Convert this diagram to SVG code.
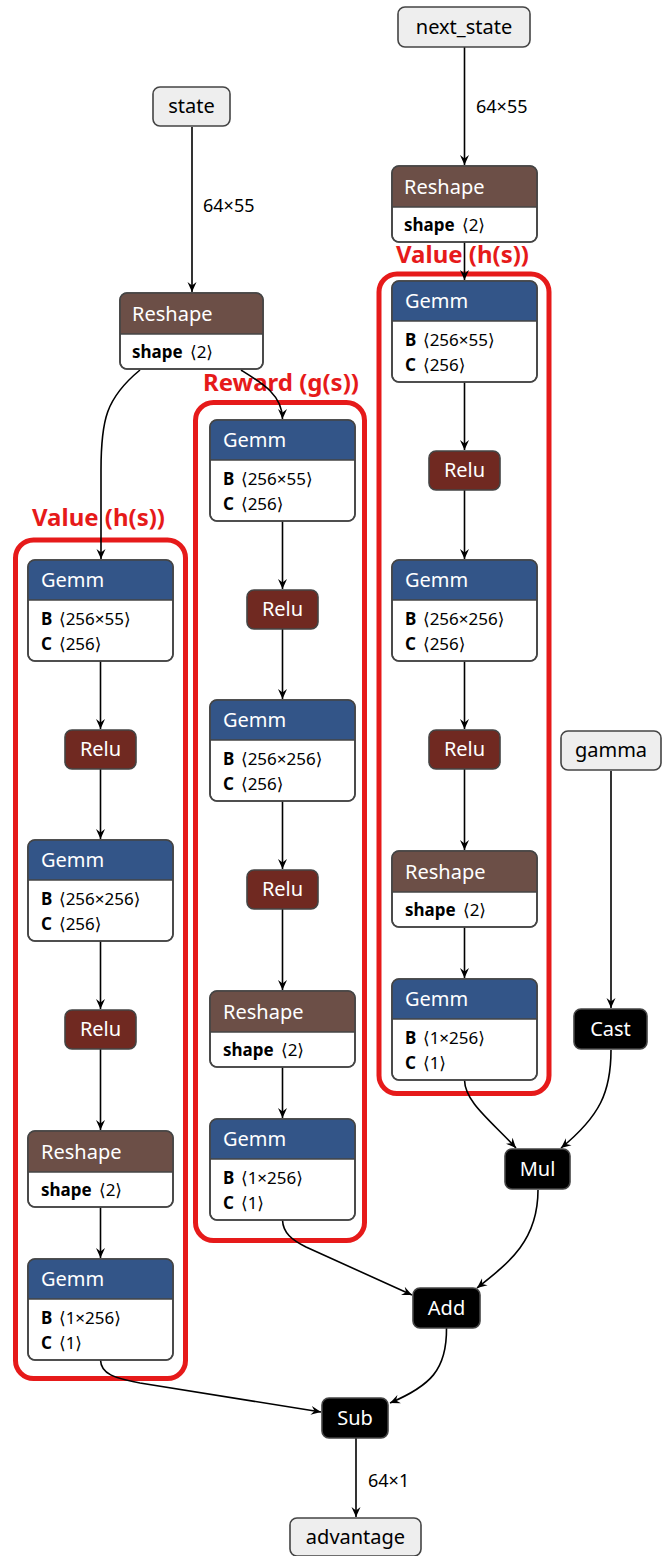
<svg xmlns="http://www.w3.org/2000/svg" width="670" height="1556" viewBox="0 0 670 1556">
<defs>
<marker id="arr" viewBox="-10 -5 11 10" refX="0" refY="0" markerWidth="11" markerHeight="10" markerUnits="userSpaceOnUse" orient="auto">
<path d="M0,0 L-10,-4.5 L-6.5,0 L-10,4.5 Z" fill="#000"/>
</marker>
</defs>
<style>
text{font-family:"Noto Sans","DejaVu Sans",sans-serif}
.box{fill:#fff;stroke:#444;stroke-width:1.6}
.edge-o{fill:none;stroke:#444;stroke-width:1.6}
.inp{fill:#eee;stroke:#444;stroke-width:1.6}
.op{fill:#000;stroke:#444;stroke-width:1.6}
.gemm{fill:#335588}
.resh{fill:#6c4f47}
.relu{fill:#702921;stroke:#444;stroke-width:1.6}
.sep{stroke:#444;stroke-width:1.4}
.t{font-size:20px;fill:#fff}
.tc{font-size:20px;fill:#fff;text-anchor:middle}
.ti{font-size:20px;fill:#000;text-anchor:middle}
.b{font-size:17px;fill:#000}
.bb{font-weight:bold}
.lbl{font-size:18px;fill:#000}
.grp{fill:none;stroke:#e61a1a;stroke-width:5}
.gl{font-size:24px;font-weight:bold;fill:#e61a1a}
.e{fill:none;stroke:#000;stroke-width:1.6;marker-end:url(#arr)}
</style>

<g id="groups">
<rect class="grp" x="15.5" y="540" width="170" height="838.5" rx="18"/>
<text class="gl" x="32" y="526">Value (h(s))</text>
<rect class="grp" x="195.5" y="402.5" width="169" height="838" rx="18"/>
<text class="gl" x="203" y="391">Reward (g(s))</text>
<rect class="grp" x="379" y="274" width="170" height="819.5" rx="18"/>
<text class="gl" x="396" y="263">Value (h(s))</text>
</g>

<g id="edges">
<path class="e" d="M192,127 V292"/>
<path class="e" d="M464.5,47 V165"/>
<path class="e" d="M464.5,242 V280"/>
<path class="e" d="M140,370 C106,398 101,420 101,470 V559"/>
<path class="e" d="M241,370 C262,383 282.5,395 282.5,419"/>
<path class="e" d="M100.5,661 V729"/>
<path class="e" d="M100.5,769 V839"/>
<path class="e" d="M100.5,941 V1009"/>
<path class="e" d="M100.5,1049 V1130"/>
<path class="e" d="M100.5,1207 V1258"/>
<path class="e" d="M282.5,521 V589"/>
<path class="e" d="M282.5,629 V699"/>
<path class="e" d="M282.5,801 V869"/>
<path class="e" d="M282.5,909 V990"/>
<path class="e" d="M282.5,1067 V1118"/>
<path class="e" d="M464.5,382 V450"/>
<path class="e" d="M464.5,490 V559"/>
<path class="e" d="M464.5,661 V729"/>
<path class="e" d="M464.5,769 V850"/>
<path class="e" d="M464.5,927 V978"/>
<path class="e" d="M611,771 V1008"/>
<path class="e" d="M464.5,1080 C465,1102 490,1120 516,1148"/>
<path class="e" d="M611,1050 C611,1092 600,1116 561,1148"/>
<path class="e" d="M538,1190 C538,1240 510,1262 477,1288"/>
<path class="e" d="M282.5,1220 C283,1233 292,1240 306,1247 L412,1295"/>
<path class="e" d="M100.5,1360 C101,1374 114,1378 140,1383 L321,1412"/>
<path class="e" d="M446.5,1328 C447,1370 430,1386 390,1403"/>
<path class="e" d="M356,1438 V1517"/>
<text class="lbl" x="203" y="212">64×55</text>
<text class="lbl" x="476" y="113">64×55</text>
<text class="lbl" x="368" y="1487">64×1</text>
</g>

<g id="state"><rect class="inp" x="153" y="87" width="77" height="39" rx="7"/><text class="ti" x="191.5" y="113">state</text></g>
<g id="next_state"><rect class="inp" x="398" y="7" width="132" height="40" rx="7"/><text class="ti" x="464" y="34">next_state</text></g>
<g id="gamma"><rect class="inp" x="561" y="731" width="100" height="39" rx="7"/><text class="ti" x="611" y="757">gamma</text></g>
<g id="advantage"><rect class="inp" x="290" y="1518" width="131" height="38" rx="7"/><text class="ti" x="355.5" y="1544">advantage</text></g>

<g id="reshape_state">
<rect class="box" x="120" y="293" width="143" height="76" rx="7"/>
<path class="resh" d="M120,334 V300 a7,7 0 0 1 7,-7 H256 a7,7 0 0 1 7,7 V334 Z"/>
<line class="sep" x1="120" y1="334" x2="263" y2="334"/>
<rect x="120" y="293" width="143" height="76" rx="7" class="edge-o"/>
<text class="t" x="132" y="321">Reshape</text>
<text class="b" x="132" y="358"><tspan class="bb">shape</tspan><tspan x="190">⟨2⟩</tspan></text>
</g>

<g id="reshape_next">
<rect class="box" x="392" y="166" width="145" height="76" rx="7"/>
<path class="resh" d="M392,207 V173 a7,7 0 0 1 7,-7 H530 a7,7 0 0 1 7,7 V207 Z"/>
<line class="sep" x1="392" y1="207" x2="537" y2="207"/>
<rect x="392" y="166" width="145" height="76" rx="7" class="edge-o"/>
<text class="t" x="404" y="194">Reshape</text>
<text class="b" x="404" y="231"><tspan class="bb">shape</tspan><tspan x="462">⟨2⟩</tspan></text>
</g>

<g id="l_gemm1">
<rect class="box" x="28" y="560" width="145" height="101" rx="7"/>
<path class="gemm" d="M28,600 V567 a7,7 0 0 1 7,-7 H166 a7,7 0 0 1 7,7 V600 Z"/>
<line class="sep" x1="28" y1="600" x2="173" y2="600"/>
<rect x="28" y="560" width="145" height="101" rx="7" class="edge-o"/>
<text class="t" x="41" y="587">Gemm</text>
<text class="b" x="41" y="625"><tspan class="bb">B</tspan><tspan x="59">⟨256×55⟩</tspan></text>
<text class="b" x="41" y="650"><tspan class="bb">C</tspan><tspan x="59">⟨256⟩</tspan></text>
</g>
<g id="l_relu1"><rect class="relu" x="65" y="730" width="71" height="39" rx="7"/><text class="tc" x="100.5" y="756">Relu</text></g>
<g id="l_gemm2">
<rect class="box" x="28" y="840" width="145" height="101" rx="7"/>
<path class="gemm" d="M28,880 V847 a7,7 0 0 1 7,-7 H166 a7,7 0 0 1 7,7 V880 Z"/>
<line class="sep" x1="28" y1="880" x2="173" y2="880"/>
<rect x="28" y="840" width="145" height="101" rx="7" class="edge-o"/>
<text class="t" x="41" y="867">Gemm</text>
<text class="b" x="41" y="905"><tspan class="bb">B</tspan><tspan x="59">⟨256×256⟩</tspan></text>
<text class="b" x="41" y="930"><tspan class="bb">C</tspan><tspan x="59">⟨256⟩</tspan></text>
</g>
<g id="l_relu2"><rect class="relu" x="65" y="1010" width="71" height="39" rx="7"/><text class="tc" x="100.5" y="1036">Relu</text></g>
<g id="l_reshape">
<rect class="box" x="28" y="1131" width="145" height="76" rx="7"/>
<path class="resh" d="M28,1172 V1138 a7,7 0 0 1 7,-7 H166 a7,7 0 0 1 7,7 V1172 Z"/>
<line class="sep" x1="28" y1="1172" x2="173" y2="1172"/>
<rect x="28" y="1131" width="145" height="76" rx="7" class="edge-o"/>
<text class="t" x="41" y="1159">Reshape</text>
<text class="b" x="41" y="1196"><tspan class="bb">shape</tspan><tspan x="99">⟨2⟩</tspan></text>
</g>
<g id="l_gemm3">
<rect class="box" x="28" y="1259" width="145" height="101" rx="7"/>
<path class="gemm" d="M28,1299 V1266 a7,7 0 0 1 7,-7 H166 a7,7 0 0 1 7,7 V1299 Z"/>
<line class="sep" x1="28" y1="1299" x2="173" y2="1299"/>
<rect x="28" y="1259" width="145" height="101" rx="7" class="edge-o"/>
<text class="t" x="41" y="1286">Gemm</text>
<text class="b" x="41" y="1324"><tspan class="bb">B</tspan><tspan x="59">⟨1×256⟩</tspan></text>
<text class="b" x="41" y="1349"><tspan class="bb">C</tspan><tspan x="59">⟨1⟩</tspan></text>
</g>

<g id="m_gemm1">
<rect class="box" x="210" y="420" width="145" height="101" rx="7"/>
<path class="gemm" d="M210,460 V427 a7,7 0 0 1 7,-7 H348 a7,7 0 0 1 7,7 V460 Z"/>
<line class="sep" x1="210" y1="460" x2="355" y2="460"/>
<rect x="210" y="420" width="145" height="101" rx="7" class="edge-o"/>
<text class="t" x="223" y="447">Gemm</text>
<text class="b" x="223" y="485"><tspan class="bb">B</tspan><tspan x="241">⟨256×55⟩</tspan></text>
<text class="b" x="223" y="510"><tspan class="bb">C</tspan><tspan x="241">⟨256⟩</tspan></text>
</g>
<g id="m_relu1"><rect class="relu" x="247" y="590" width="71" height="39" rx="7"/><text class="tc" x="282.5" y="616">Relu</text></g>
<g id="m_gemm2">
<rect class="box" x="210" y="700" width="145" height="101" rx="7"/>
<path class="gemm" d="M210,740 V707 a7,7 0 0 1 7,-7 H348 a7,7 0 0 1 7,7 V740 Z"/>
<line class="sep" x1="210" y1="740" x2="355" y2="740"/>
<rect x="210" y="700" width="145" height="101" rx="7" class="edge-o"/>
<text class="t" x="223" y="727">Gemm</text>
<text class="b" x="223" y="765"><tspan class="bb">B</tspan><tspan x="241">⟨256×256⟩</tspan></text>
<text class="b" x="223" y="790"><tspan class="bb">C</tspan><tspan x="241">⟨256⟩</tspan></text>
</g>
<g id="m_relu2"><rect class="relu" x="247" y="870" width="71" height="39" rx="7"/><text class="tc" x="282.5" y="896">Relu</text></g>
<g id="m_reshape">
<rect class="box" x="210" y="991" width="145" height="76" rx="7"/>
<path class="resh" d="M210,1032 V998 a7,7 0 0 1 7,-7 H348 a7,7 0 0 1 7,7 V1032 Z"/>
<line class="sep" x1="210" y1="1032" x2="355" y2="1032"/>
<rect x="210" y="991" width="145" height="76" rx="7" class="edge-o"/>
<text class="t" x="223" y="1019">Reshape</text>
<text class="b" x="223" y="1056"><tspan class="bb">shape</tspan><tspan x="281">⟨2⟩</tspan></text>
</g>
<g id="m_gemm3">
<rect class="box" x="210" y="1119" width="145" height="101" rx="7"/>
<path class="gemm" d="M210,1159 V1126 a7,7 0 0 1 7,-7 H348 a7,7 0 0 1 7,7 V1159 Z"/>
<line class="sep" x1="210" y1="1159" x2="355" y2="1159"/>
<rect x="210" y="1119" width="145" height="101" rx="7" class="edge-o"/>
<text class="t" x="223" y="1146">Gemm</text>
<text class="b" x="223" y="1184"><tspan class="bb">B</tspan><tspan x="241">⟨1×256⟩</tspan></text>
<text class="b" x="223" y="1209"><tspan class="bb">C</tspan><tspan x="241">⟨1⟩</tspan></text>
</g>

<g id="r_gemm1">
<rect class="box" x="392" y="281" width="145" height="101" rx="7"/>
<path class="gemm" d="M392,321 V288 a7,7 0 0 1 7,-7 H530 a7,7 0 0 1 7,7 V321 Z"/>
<line class="sep" x1="392" y1="321" x2="537" y2="321"/>
<rect x="392" y="281" width="145" height="101" rx="7" class="edge-o"/>
<text class="t" x="405" y="308">Gemm</text>
<text class="b" x="405" y="346"><tspan class="bb">B</tspan><tspan x="423">⟨256×55⟩</tspan></text>
<text class="b" x="405" y="371"><tspan class="bb">C</tspan><tspan x="423">⟨256⟩</tspan></text>
</g>
<g id="r_relu1"><rect class="relu" x="429" y="451" width="71" height="39" rx="7"/><text class="tc" x="464.5" y="477">Relu</text></g>
<g id="r_gemm2">
<rect class="box" x="392" y="560" width="145" height="101" rx="7"/>
<path class="gemm" d="M392,600 V567 a7,7 0 0 1 7,-7 H530 a7,7 0 0 1 7,7 V600 Z"/>
<line class="sep" x1="392" y1="600" x2="537" y2="600"/>
<rect x="392" y="560" width="145" height="101" rx="7" class="edge-o"/>
<text class="t" x="405" y="587">Gemm</text>
<text class="b" x="405" y="625"><tspan class="bb">B</tspan><tspan x="423">⟨256×256⟩</tspan></text>
<text class="b" x="405" y="650"><tspan class="bb">C</tspan><tspan x="423">⟨256⟩</tspan></text>
</g>
<g id="r_relu2"><rect class="relu" x="429" y="730" width="71" height="39" rx="7"/><text class="tc" x="464.5" y="756">Relu</text></g>
<g id="r_reshape">
<rect class="box" x="392" y="851" width="145" height="76" rx="7"/>
<path class="resh" d="M392,892 V858 a7,7 0 0 1 7,-7 H530 a7,7 0 0 1 7,7 V892 Z"/>
<line class="sep" x1="392" y1="892" x2="537" y2="892"/>
<rect x="392" y="851" width="145" height="76" rx="7" class="edge-o"/>
<text class="t" x="405" y="879">Reshape</text>
<text class="b" x="405" y="916"><tspan class="bb">shape</tspan><tspan x="463">⟨2⟩</tspan></text>
</g>
<g id="r_gemm3">
<rect class="box" x="392" y="979" width="145" height="101" rx="7"/>
<path class="gemm" d="M392,1019 V986 a7,7 0 0 1 7,-7 H530 a7,7 0 0 1 7,7 V1019 Z"/>
<line class="sep" x1="392" y1="1019" x2="537" y2="1019"/>
<rect x="392" y="979" width="145" height="101" rx="7" class="edge-o"/>
<text class="t" x="405" y="1006">Gemm</text>
<text class="b" x="405" y="1044"><tspan class="bb">B</tspan><tspan x="423">⟨1×256⟩</tspan></text>
<text class="b" x="405" y="1069"><tspan class="bb">C</tspan><tspan x="423">⟨1⟩</tspan></text>
</g>

<g id="cast"><rect class="op" x="574" y="1009" width="73" height="40" rx="7"/><text class="tc" x="610.5" y="1036">Cast</text></g>
<g id="mul"><rect class="op" x="505" y="1149" width="65" height="40" rx="7"/><text class="tc" x="537.5" y="1176">Mul</text></g>
<g id="add"><rect class="op" x="413" y="1288" width="67" height="40" rx="7"/><text class="tc" x="446.5" y="1315">Add</text></g>
<g id="sub"><rect class="op" x="322" y="1398" width="66" height="40" rx="7"/><text class="tc" x="355" y="1425">Sub</text></g>
</svg>
